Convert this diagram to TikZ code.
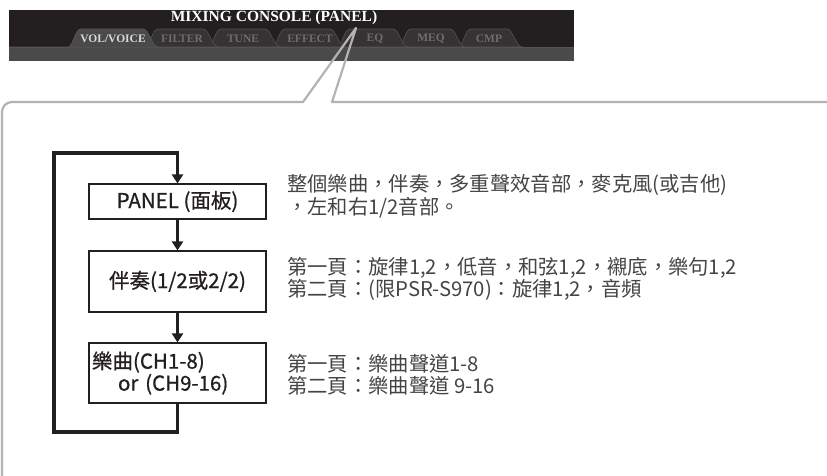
\documentclass[tikz,border=0pt]{standalone}
\usepackage{fontspec}
\setmainfont{Noto Sans CJK TC}
\newfontfamily\boxfont[FakeBold=0.8]{Noto Sans CJK TC}
\newfontfamily\panelfont{Liberation Serif}
\usetikzlibrary{arrows.meta}
\definecolor{ink}{HTML}{231F20}
\definecolor{framegray}{HTML}{B3B3B3}
\definecolor{txtgray}{HTML}{454344}
\definecolor{paneltop}{HTML}{231F20}
\definecolor{panelstrip}{HTML}{4B4A4B}
\definecolor{tabdark}{HTML}{363334}
\definecolor{tabedge}{HTML}{555253}
\definecolor{tabtxt}{HTML}{6E6C6D}
\definecolor{tabtxton}{HTML}{D9D9D9}
\begin{document}
\begin{tikzpicture}[x=1pt,y=-1pt,
 flowbox/.style={draw=ink,line width=1.1pt,fill=white,minimum width=177pt,inner sep=0pt,
   font=\boxfont\fontsize{20.5}{22}\selectfont,text=ink},
 flow/.style={draw=ink,line width=3.5pt,-{Triangle[width=11pt,length=9pt]}},
 desc/.style={anchor=west,align=left,inner sep=0pt,font=\fontsize{20.3}{22.5}\selectfont,text=txtgray},
 tablabel/.style={font=\panelfont\bfseries\fontsize{11.5}{12}\selectfont,text=tabtxt,inner sep=0pt},
 tabshape/.style={fill=tabdark,draw=tabedge,line width=0.6pt},
 callout/.style={draw=framegray,line width=2.2pt,line join=round}
]
\useasboundingbox (0,0) rectangle (827,476);

% ---- panel screenshot ----
\fill[paneltop] (9,10) rectangle (574,61);
\fill[panelstrip] (9,47) rectangle (574,61);
\foreach \a/\b in {458/522,398/465,337/408,272/345,208/280,145/218}{
  \filldraw[tabshape] (\a,47) .. controls (\a+5,47) and (\a+7,29) .. (\a+13,29)
     -- (\b-15,29) .. controls (\b-9,29) and (\b-6,47) .. (\b,47) -- cycle;
}
\draw[tabedge,line width=0.8pt] (9,47) -- (574,47);
\fill[panelstrip] (68,47.5) .. controls (73,47) and (75,29) .. (81,29)
     -- (143,29) .. controls (149,29) and (152,47) .. (158,47.5) -- cycle;
\draw[tabedge,line width=0.8pt] (9,47) -- (68,47) .. controls (73,47) and (75,29) .. (81,29)
     -- (143,29) .. controls (149,29) and (152,47) .. (158,47);
\node[tablabel,text=tabtxton] (tvol) at (113,38.5) {VOL/VOICE};
\node[tablabel] (tfil) at (182,38.5) {FILTER};
\node[tablabel] (ttun) at (243,38.5) {TUNE};
\node[tablabel] (teff) at (310,38.5) {EFFECT};
\node[tablabel] (teq) at (375,38.5) {EQ};
\node[tablabel] (tmeq) at (431,38.5) {MEQ};
\node[tablabel] (tcmp) at (489,38.5) {CMP};
\node[font=\panelfont\bfseries\fontsize{15.5}{16}\selectfont,text=white,inner sep=0pt] (title) at (274,18) {MIXING CONSOLE (PANEL)};

% ---- callout frame ----
\draw[callout] (2,480) {[rounded corners=10pt] -- (2,102) -- (150,102)} -- (303,102) -- (356,28) -- (332,102) -- (830,102);

% ---- flow ----
\node[flowbox,minimum height=35pt] (panel) at (177.5,201.5) {PANEL (面板)};
\node[flowbox,minimum height=61pt] (acc) at (177.5,281.5) {伴奏(1/2或2/2)};
\node[flowbox,minimum height=60pt,text width=171pt,align=left] (song) at (177.5,373)
  {樂曲(CH1-8)\\\hspace*{26pt}or (CH9-16)};

\coordinate (lb) at (177.5,432);
\coordinate (lbl) at (54,432);
\coordinate (ltl) at (54,153);
\coordinate (ltr) at (177.5,153);
\draw[flow,line join=miter] (song.south) -- (lb) -- (lbl) -- (ltl) -- (ltr) -- (panel.north);
\draw[flow] (panel.south) -- (acc.north);
\draw[flow] (acc.south) -- (song.north);

% ---- descriptions ----
\node[desc] (d1) at (287,196) {整個樂曲，伴奏，多重聲效音部，麥克風(或吉他)\\，左和右1/2音部。};
\node[desc] (d2) at (287,279) {第一頁：旋律1,2，低音，和弦1,2，襯底，樂句1,2\\第二頁：(限PSR-S970)：旋律1,2，音頻};
\node[desc] (d3) at (287,374.5) {第一頁：樂曲聲道1-8\\第二頁：樂曲聲道 9-16};
\end{tikzpicture}
\end{document}
